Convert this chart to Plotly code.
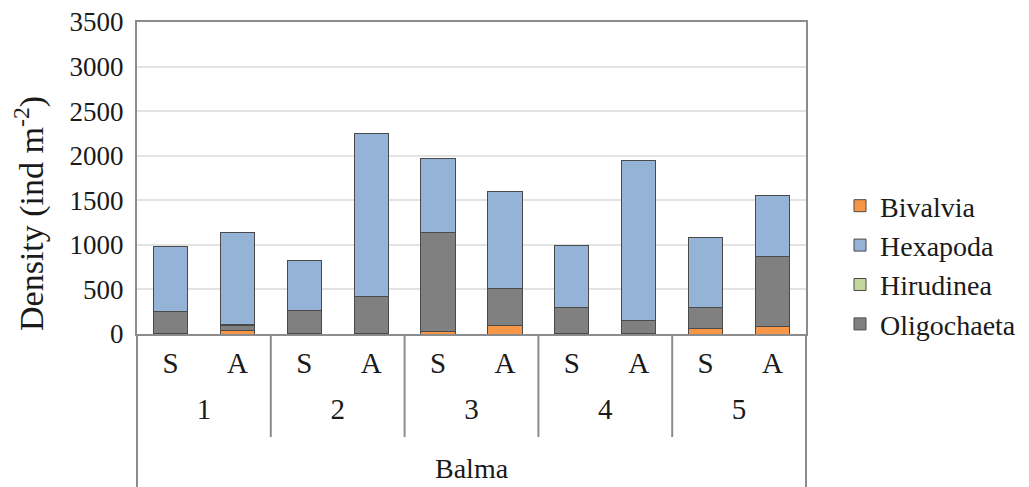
import plotly.graph_objects as go

sites = ["1", "1", "2", "2", "3", "3", "4", "4", "5", "5"]
seasons = ["S", "A", "S", "A", "S", "A", "S", "A", "S", "A"]
bivalvia = [10, 40, 10, 5, 25, 100, 2, 5, 60, 80]
oligochaeta = [240, 60, 250, 415, 1115, 410, 295, 150, 235, 790]
hirudinea = [0, 5, 0, 0, 0, 0, 0, 0, 0, 0]
hexapoda = [730, 1035, 570, 1830, 825, 1090, 700, 1795, 790, 685]
y_ticks = [0, 500, 1000, 1500, 2000, 2500, 3000, 3500]
group_label = "Balma"

FONT = "Liberation Serif"
TXT = "#1a1a1a"
AX = "#8c8c8c"
W, H = 1029, 487
OFF = 8            # page body margin offset
T = 22 - OFF
L = 137 - OFF
R = W - (806 - OFF)
PH = H - T         # paper height (bottom margin 0)
PW = W - L - R


def py(pix):
    """screen pixel row -> paper fraction"""
    return (H - (pix - OFF)) / PH


def px(pix):
    """screen pixel column -> paper fraction"""
    return ((pix - OFF) - L) / PW


cats = [f"{s}-{t}" for s, t in zip(sites, seasons)]
groups = []
for i, s in enumerate(sites):
    if not groups or groups[-1][0] != s:
        groups.append([s, i, i])
    else:
        groups[-1][2] = i
centres = [(g[1] + g[2]) / 2 for g in groups]
bounds = [g[1] - 0.5 for g in groups[1:]]

outline = dict(color="#4a4a4a", width=1)
series = [
    ("Bivalvia", bivalvia, "#F79646", 1),
    ("Oligochaeta", oligochaeta, "#808080", 4),
    ("Hirudinea", hirudinea, "#C3D69B", 3),
    ("Hexapoda", hexapoda, "#95B3D7", 2),
]

fig = go.Figure()
for name, vals, col, rank in series:
    fig.add_trace(go.Bar(
        x=cats, y=vals, name=name,
        marker=dict(color=col, line=outline),
        legendrank=rank, legendgroup=name,
    ))
fig.add_trace(go.Scatter(x=centres, y=[0] * len(centres), xaxis="x2", yaxis="y",
                         mode="markers", marker=dict(opacity=0), showlegend=False,
                         hoverinfo="skip"))

fig.update_layout(
    width=W, height=H,
    barmode="stack", bargap=0.49,
    plot_bgcolor="white", paper_bgcolor="white",
    margin=dict(l=L, r=R, t=T, b=0, autoexpand=False),
    font=dict(family=FONT, color=TXT),
    legend=dict(
        x=px(840), xanchor="left", y=py(181), yanchor="top",
        traceorder="grouped", tracegroupgap=0,
        font=dict(size=28, family=FONT, color=TXT),
    ),
    yaxis=dict(
        domain=[py(334), 1],
        range=[0, 3500], tickvals=y_ticks, ticktext=[str(v) for v in y_ticks],
        showgrid=True, gridcolor="#e3e3e3", gridwidth=1.5,
        showline=True, linecolor=AX, linewidth=2, mirror=True,
        ticks="", tickfont=dict(size=27, family=FONT, color=TXT),
        ticklabelstandoff=6, ticklabeloverflow="allow",
        zeroline=False, automargin=False,
    ),
    xaxis=dict(
        type="category", range=[-0.5, len(cats) - 0.5],
        tickvals=cats, ticktext=seasons,
        showline=True, linecolor=AX, linewidth=2, mirror=True,
        ticks="", tickfont=dict(size=29, family=FONT, color=TXT),
        ticklabelstandoff=2, automargin=False,
    ),
    xaxis2=dict(
        overlaying="x", anchor="free", position=py(389), side="bottom",
        range=[-0.5, len(cats) - 0.5],
        tickvals=centres, ticktext=[g[0] for g in groups],
        showline=False, showgrid=False, zeroline=False, ticks="",
        tickfont=dict(size=29, family=FONT, color=TXT), automargin=False,
    ),
)
for b in bounds:
    fig.add_shape(type="line", xref="x", yref="paper", x0=b, x1=b,
                  y0=py(334), y1=py(437), line=dict(color=AX, width=2))
for xp in (0, 1):
    fig.add_shape(type="line", xref="paper", yref="paper", x0=xp, x1=xp,
                  y0=py(334), y1=0, line=dict(color=AX, width=2))
fig.add_annotation(text=group_label, xref="paper", yref="paper", x=0.5, y=py(468),
                   showarrow=False, font=dict(size=28, family=FONT, color=TXT),
                   yanchor="middle")
fig.add_annotation(text="Density (ind m<sup>-2</sup>)", xref="paper", yref="paper",
                   x=px(29), y=py(214), textangle=-90, showarrow=False,
                   font=dict(size=34, family=FONT, color=TXT),
                   xanchor="center", yanchor="middle")

fig.write_html("out.html")
